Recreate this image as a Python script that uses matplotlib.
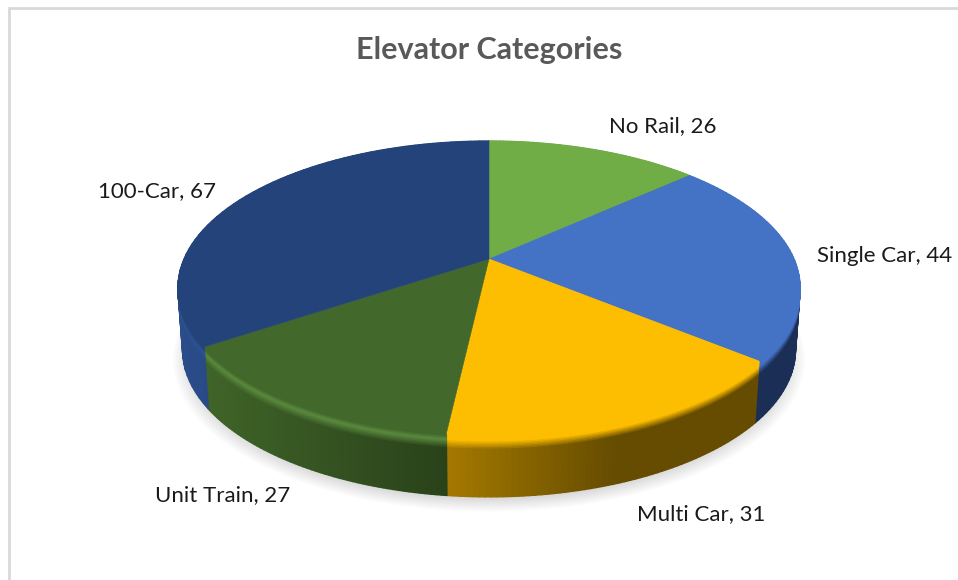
import numpy as np
import matplotlib
matplotlib.use("Agg")
import matplotlib.pyplot as plt
from matplotlib.collections import PolyCollection
from matplotlib.colors import to_rgb
from matplotlib.patches import Polygon
from matplotlib.transforms import Transform

categories = ["No Rail", "Single Car", "Multi Car", "Unit Train", "100-Car"]
values = [26, 44, 31, 27, 67]
title = "Elevator Categories"

top_colors = ["#70ad47", "#4472c4", "#fdbd00", "#43682b", "#24437a"]
wall_left = ["#4a7530", "#1b2e55", "#a67a00", "#3f6428", "#2a4c8a"]
wall_right = ["#4a7530", "#1b2e55", "#654c00", "#2a421a", "#1f3864"]
highlight = ["#70ad47", "#4472c4", "#fdbd00", "#5a8a3e", "#2c5290"]
label_pos = [(663, 126), (885, 256), (701, 514), (223, 495), (157, 191)]

CX, CY, A, B, P = 489.0, 259.0, 141.2, 305.0, 0.197
DEPTH, SHRINK, BEVEL = 62.0, 0.985, 13.0


class Tilt(Transform):
    input_dims = output_dims = 2

    def __init__(self, drop=0.0, squeeze=1.0):
        super().__init__()
        self.drop, self.squeeze = drop, squeeze

    def transform_non_affine(self, xy):
        xy = np.asarray(xy, float)
        w = 1 + P * xy[:, 1]
        return np.column_stack([
            CX + self.squeeze * B * xy[:, 0] / w,
            CY + self.drop - A * xy[:, 1] / w,
        ])


fig = plt.figure(figsize=(9.58, 5.80), dpi=100, facecolor="white")
ax = fig.add_axes([0, 0, 1, 1])

wedges, _ = ax.pie(values, colors=top_colors, startangle=90, counterclock=False,
                   frame=True, wedgeprops={"linewidth": 0.4, "zorder": 5})
tilt = Tilt()
for w, c in zip(wedges, top_colors):
    w.set_edgecolor(c)
    w.set_transform(tilt + ax.transData)

ax.set_aspect("auto")
ax.set_xlim(0, 958)
ax.set_ylim(580, 0)
ax.axis("off")

# soft shadow under the disc
circle = np.linspace(0, 2 * np.pi, 240)
unit = np.column_stack([np.cos(circle), np.sin(circle)])
for r in np.linspace(1.03, 0.97, 14):
    pts = Tilt(drop=DEPTH + 7 + 20 * (r - 0.97), squeeze=SHRINK).transform(unit * r)
    ax.add_patch(Polygon(pts, closed=True, facecolor="#404040", alpha=0.017, edgecolor="none", zorder=1))


def mix(c1, c2, t):
    return tuple((1 - t) * np.array(to_rgb(c1)) + t * np.array(to_rgb(c2)))


# side wall and bevelled rim of every slice, front of the disc only shows
edges = np.cumsum([0] + values) / sum(values) * 2 * np.pi
for i in range(len(values)):
    t = np.linspace(edges[i], edges[i + 1], 60)
    rim = np.column_stack([np.sin(t), np.cos(t)])
    top = tilt.transform(rim)
    x0, x1 = top[:, 0].min(), top[:, 0].max()
    if i == 2:
        x1 = x0 + 0.55 * (x1 - x0)
    polys, cols = [], []
    steps = np.r_[np.linspace(0, BEVEL, 10), DEPTH]
    for k in range(len(steps) - 2, -1, -1):
        d0, d1 = steps[k], steps[k + 1]
        s0 = 1 - (1 - SHRINK) * d0 / DEPTH
        s1 = 1 - (1 - SHRINK) * d1 / DEPTH
        up = Tilt(drop=d0, squeeze=s0).transform(rim)
        dn = Tilt(drop=d1, squeeze=s1).transform(rim)
        for j in range(len(t) - 1):
            polys.append([up[j], up[j + 1], dn[j + 1], dn[j]])
            u = np.clip((top[j, 0] - x0) / max(x1 - x0, 1), 0, 1)
            wall = mix(wall_left[i], wall_right[i], u)
            f = d0 / BEVEL
            if f < 0.35:
                c = mix(top_colors[i], highlight[i], f / 0.35)
            elif f < 1:
                c = mix(highlight[i], wall, (f - 0.35) / 0.65)
            else:
                c = wall
            cols.append(c)
    ax.add_collection(PolyCollection(polys, facecolors=cols, edgecolors=cols,
                                     linewidths=1.0, zorder=3))

# chart frame
ax.plot([9, 9, 958], [580, 8, 8], color="#d9d9d9", lw=2, zorder=0, solid_joinstyle="miter")

ax.text(489, 50, title, ha="center", va="center", fontsize=22, color="#595959",
        family="Lato", weight="bold")
for name, v, (x, y) in zip(categories, values, label_pos):
    ax.text(x, y, f"{name}, {v}", ha="center", va="center", fontsize=16,
            color="#1a1a1a", family="Lato")

fig.savefig("out.png", dpi=100)
